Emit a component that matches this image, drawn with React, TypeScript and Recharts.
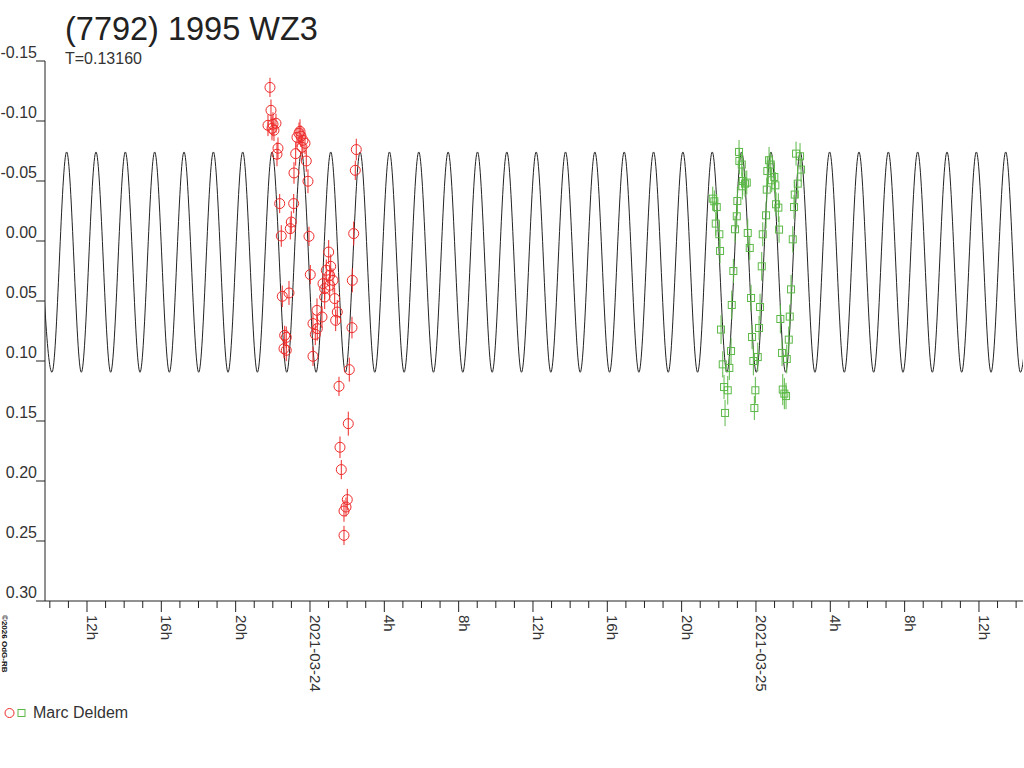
import * as React from "react";
import {
  ComposedChart,
  Line,
  Scatter,
  ErrorBar,
  XAxis,
  YAxis,
} from "recharts";

// time axis: hours relative to 2021-03-24 00:00 UT
const xMinorHours = [
  -14, -13, -12, -11, -10, -9, -8, -7, -6, -5, -4, -3, -2, -1, 0, 1, 2, 3, 4, 5, 6, 7, 8, 9, 10, 11, 12,
  13, 14, 15, 16, 17, 18, 19, 20, 21, 22, 23, 24, 25, 26, 27, 28, 29, 30, 31, 32, 33, 34, 35, 36, 37, 38,
];
const xMajorHours = [-12, -8, -4, 0, 4, 8, 12, 16, 20, 24, 28, 32, 36];
const xMajorLabels = ["12h", "16h", "20h", "2021-03-24", "4h", "8h", "12h", "16h", "20h", "2021-03-25", "4h", "8h", "12h"];
const yTicks = [-0.15, -0.1, -0.05, 0, 0.05, 0.1, 0.15, 0.2, 0.25, 0.3];

// model light curve (T=0.13160 d): times of maxima / minima
const peakHours = [
  -14.674, -13.095, -11.516, -9.937, -8.358, -6.779, -5.199, -3.62, -2.041, -0.461, 1.118, 2.697, 4.276,
  5.855, 7.434, 9.014, 10.593, 12.172, 13.751, 15.331, 16.91, 18.489, 20.068, 21.647, 23.227, 24.806,
  26.385, 27.964, 29.543, 31.123, 32.702, 34.281, 35.86, 37.439, 39.019,
];
const troughHours = [
  -13.884, -12.305, -10.726, -9.147, -7.568, -5.989, -4.41, -2.83, -1.251, 0.328, 1.908, 3.487, 5.066,
  6.645, 8.224, 9.803, 11.382, 12.962, 14.541, 16.12, 17.699, 19.279, 20.858, 22.437, 24.016, 25.595,
  27.174, 28.754, 30.333, 31.912, 33.491, 35.071, 36.65, 38.229,
];
const peakMag = -0.0742;
const troughMag = 0.1094;

// Marc Deldem, night 1 (red circles)
const redHours = [
  -2.153, -2.099, -2.26, -1.991, -1.938, -1.83, -2.045, -1.722, -1.776, -1.631, -1.545, -1.491, -1.362,
  -1.276, -1.399, -1.276, -1.13, -1.06, -1.006, -0.877, -0.861, -0.77, -0.7, -0.592, -0.538, -0.484,
  -0.377, -0.269, -0.431, -0.199, -0.108, -0.054, 0.016, 0.161, 0.285, 0.161, 0.377, 0.393, 0.646, 0.7,
  0.791, 0.791, 0.877, 1.006, 1.06, 1.114, 1.06, 1.238, 1.329, 1.469, 1.383, 1.561, 1.615, 1.685, 1.83,
  1.938, 2.007, 1.83, 2.061, 2.115, 2.26, 2.277, 2.352, 2.438, 2.492,
];
const redMags = [
  -0.128, -0.1089, -0.0964, -0.0973, -0.0923, -0.0981, -0.0939, -0.0773, -0.0723, -0.0312, -0.0042,
  0.0461, 0.0786, 0.0803, 0.0897, 0.0911, 0.0433, -0.0103, -0.0158, -0.0312, -0.0567, -0.0728, -0.0864,
  -0.0898, -0.0914, -0.0873, -0.0839, -0.0814, -0.0781, -0.0667, -0.0498, -0.0039, 0.028, 0.0688, 0.0778,
  0.0961, 0.0578, 0.073, 0.0633, 0.0355, 0.0397, 0.0467, 0.0244, 0.0092, 0.0286, 0.0211, 0.0369, 0.0328,
  0.048, 0.0592, 0.0661, 0.1211, 0.1719, 0.1905, 0.225, 0.2217, 0.2155, 0.2453, 0.1522, 0.1072, 0.0722,
  0.0328, -0.0062, -0.0589, -0.0762,
];
const redErrs = [
  0.008, 0.009, 0.009, 0.01, 0.009, 0.008, 0.01, 0.009, 0.01, 0.008, 0.009, 0.009, 0.008, 0.009, 0.008,
  0.009, 0.01, 0.009, 0.009, 0.008, 0.009, 0.01, 0.008, 0.009, 0.01, 0.009, 0.01, 0.009, 0.01, 0.009,
  0.01, 0.008, 0.008, 0.009, 0.009, 0.008, 0.01, 0.01, 0.009, 0.008, 0.009, 0.01, 0.009, 0.01, 0.009,
  0.01, 0.009, 0.01, 0.009, 0.01, 0.009, 0.008, 0.009, 0.008, 0.009, 0.008, 0.009, 0.008, 0.01, 0.01,
  0.009, 0.01, 0.01, 0.008, 0.009,
];

// Marc Deldem, night 2 (green squares)
const greenHours = [
  21.674, 21.76, 21.889, 21.835, 22.029, 22.067, 22.12, 22.212, 22.282, 22.481, 22.336, 22.567, 22.659,
  22.697, 22.783, 22.874, 22.966, 22.998, 23.089, 23.106, 23.235, 23.289, 23.504, 23.267, 23.557, 23.665,
  23.735, 23.789, 23.859, 23.913, 23.967, 24.096, 24.166, 24.22, 24.311, 24.365, 24.543, 24.58, 24.612,
  24.704, 24.795, 24.989, 25.043, 25.081, 25.205, 25.242, 25.312, 25.404, 25.441, 25.619, 25.657, 25.765,
  25.818, 25.888, 25.98, 26.049, 26.087, 26.249, 26.426, 26.372, 26.157, 25.527, 23.412, 24.849,
];
const greenMags = [
  -0.0353, -0.0331, -0.0283, -0.0145, -0.0056, 0.0083, 0.0738, 0.1028, 0.1217, 0.1244, 0.1433, 0.1058,
  0.0917, 0.0533, 0.025, -0.0098, -0.0206, -0.0333, -0.0742, -0.0667, -0.0637, -0.05, -0.0487, -0.0456,
  -0.0067, 0.0058, 0.0475, 0.08, 0.1, 0.1392, 0.1244, 0.0967, 0.0725, 0.055, 0.0211, -0.0056, -0.0214,
  -0.0428, -0.0583, -0.0673, -0.0637, -0.0533, -0.0464, -0.0306, -0.0278, -0.0095, 0.065, 0.0933, 0.1238,
  0.1292, 0.0983, 0.0822, 0.063, 0.0403, -0.0014, -0.0283, -0.0387, -0.0478, -0.0595, -0.0706, -0.0728,
  0.1272, -0.0478, -0.0506,
];
const greenErrs = [
  0.01, 0.009, 0.011, 0.01, 0.011, 0.01, 0.012, 0.011, 0.01, 0.012, 0.011, 0.01, 0.011, 0.012, 0.01,
  0.011, 0.01, 0.012, 0.01, 0.011, 0.01, 0.012, 0.01, 0.011, 0.012, 0.01, 0.011, 0.01, 0.012, 0.01, 0.011,
  0.012, 0.01, 0.011, 0.012, 0.01, 0.011, 0.01, 0.012, 0.011, 0.01, 0.012, 0.011, 0.01, 0.012, 0.011,
  0.012, 0.011, 0.013, 0.011, 0.012, 0.011, 0.01, 0.012, 0.011, 0.01, 0.011, 0.012, 0.01, 0.011, 0.01,
  0.013, 0.011, 0.01,
];

const RED = "#ee2a2a";
const GREEN = "#5cb947";
const INK = "#222222";
const FONT = "'Liberation Sans', Arial, sans-serif";

const modelData = [
  ...peakHours.map((h) => ({ h, v: peakMag })),
  ...troughHours.map((h) => ({ h, v: troughMag })),
].sort((a, b) => a.h - b.h);

const redData = redHours.map((h, i) => ({ h, v: redMags[i], e: redErrs[i] }));
const greenData = greenHours.map((h, i) => ({ h, v: greenMags[i], e: greenErrs[i] }));

function XTick({ x, y, payload }: any) {
  const idx = xMajorHours.indexOf(payload.value);
  const major = idx >= 0;
  return (
    <g>
      <line x1={x} x2={x} y1={y} y2={y + (major ? 11 : 7)} stroke={INK} />
      {major && (
        <text
          x={x}
          y={y + 14}
          transform={`rotate(90, ${x}, ${y + 14})`}
          fontFamily={FONT}
          fontSize={15}
          fill="#333"
        >
          {xMajorLabels[idx]}
        </text>
      )}
    </g>
  );
}

function YTick({ x, y, payload }: any) {
  return (
    <g>
      <line x1={x - 9} x2={x} y1={y} y2={y} stroke={INK} />
      <text x={x - 8} y={y - 3} textAnchor="end" fontFamily={FONT} fontSize={16} fill="#333">
        {payload.value.toFixed(2)}
      </text>
    </g>
  );
}

const circleShape = (props: any) => (
  <circle cx={props.cx} cy={props.cy} r={5} fill="none" stroke={RED} strokeWidth={1} />
);
const squareShape = (props: any) => (
  <rect x={props.cx - 3.5} y={props.cy - 3.5} width={7} height={7} fill="none" stroke={GREEN} strokeWidth={1} />
);

export default function App() {
  return (
    <div style={{ position: "absolute", left: 0, top: 0, width: 1024, height: 768, background: "#fff" }}>
      <ComposedChart width={1024} height={768} margin={{ top: 61, right: 1, bottom: 0, left: 0 }}>
        <XAxis
          type="number"
          dataKey="h"
          domain={[-14.26, 38.37]}
          allowDataOverflow
          ticks={xMinorHours}
          interval={0}
          height={167}
          tickSize={0}
          tickMargin={0}
          tickLine={false}
          axisLine={{ stroke: INK }}
          tick={<XTick />}
        />
        <YAxis
          type="number"
          dataKey="v"
          domain={[-0.15, 0.3]}
          reversed
          allowDataOverflow
          ticks={yTicks}
          interval={0}
          width={45}
          tickSize={0}
          tickMargin={0}
          tickLine={false}
          axisLine={{ stroke: INK }}
          tick={<YTick />}
        />
        <Line
          data={modelData}
          dataKey="v"
          type="monotone"
          stroke={INK}
          strokeWidth={1}
          dot={false}
          activeDot={false}
          isAnimationActive={false}
        />
        <Scatter data={redData} dataKey="v" shape={circleShape} isAnimationActive={false}>
          <ErrorBar dataKey="e" direction="y" width={0} stroke={RED} strokeWidth={1} isAnimationActive={false} />
        </Scatter>
        <Scatter data={greenData} dataKey="v" shape={squareShape} isAnimationActive={false}>
          <ErrorBar dataKey="e" direction="y" width={0} stroke={GREEN} strokeWidth={1} isAnimationActive={false} />
        </Scatter>
      </ComposedChart>
      <svg
        width={1024}
        height={768}
        style={{ position: "absolute", left: 0, top: 0, pointerEvents: "none" }}
      >
        <text x={65} y={40} fontFamily={FONT} fontSize={32.5} fill={INK}>
          (7792) 1995 WZ3
        </text>
        <text x={65} y={64} fontFamily={FONT} fontSize={16} fill="#333">
          T=0.13160
        </text>
        <text
          x={2}
          y={615}
          transform="rotate(90, 2, 615)"
          fontFamily={FONT}
          fontSize={8}
          fontWeight="bold"
          fill="#111"
        >
          ©2026 OdG-RB
        </text>
        <circle cx={9.5} cy={713} r={4.5} fill="none" stroke={RED} />
        <rect x={18} y={709.5} width={7} height={7} fill="none" stroke={GREEN} />
        <text x={33} y={718} fontFamily={FONT} fontSize={16} fill="#333">
          Marc Deldem
        </text>
      </svg>
    </div>
  );
}
